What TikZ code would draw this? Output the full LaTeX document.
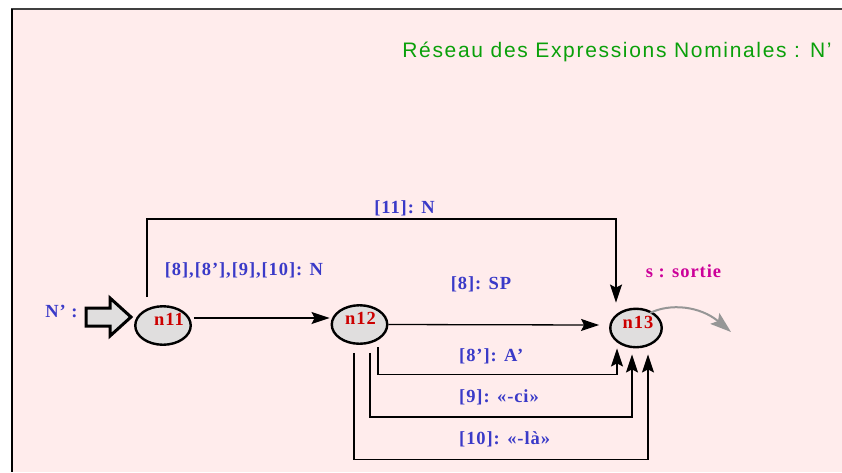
\documentclass[tikz,border=0pt]{standalone}
\usepackage{fontspec}
\setmainfont{Liberation Serif}
\newfontfamily\titlefont{Liberation Sans}[LetterSpace=8]
\newfontfamily\labfont{Liberation Serif}[LetterSpace=5]
\usetikzlibrary{arrows.meta,calc,shapes.geometric}
\definecolor{bgpink}{RGB}{255,236,236}
\definecolor{labblue}{RGB}{58,58,200}
\definecolor{nodered}{RGB}{204,0,0}
\definecolor{magent}{RGB}{204,0,153}
\definecolor{titlegreen}{RGB}{10,160,10}
\definecolor{ellfill}{RGB}{224,222,222}
\definecolor{arrgray}{RGB}{150,150,150}
\begin{document}
\begin{tikzpicture}[x=1pt,y=-1pt,
  statenode/.style={ellipse,draw=black,line width=2.4pt,fill=ellfill,inner sep=0pt,
    minimum width=55.5pt,minimum height=38.5pt},
  nlab/.style={font=\labfont\bfseries\fontsize{18.5}{20}\selectfont,text=nodered,inner sep=0pt,anchor=base},
  blab/.style={font=\labfont\bfseries\fontsize{18.5}{20}\selectfont,text=labblue,inner sep=0pt,anchor=base},
  arr/.style={line width=1.3pt,-{Stealth[length=18pt,width=12pt,inset=3pt]}},
  garr/.style={line width=2pt,draw=arrgray,-{Stealth[length=21pt,width=14pt,inset=4pt]}}
]
\useasboundingbox (0,0) rectangle (842,472);
\fill[white] (0,0) rectangle (842,472);
\fill[bgpink] (12,9) rectangle (842,472);
\draw[line width=2pt,draw=black!75] (11,9) -- (842,9);
\draw[line width=2pt,draw=black] (12,9) -- (12,472);

% title
\node[font=\titlefont\fontsize{21}{23}\selectfont,text=titlegreen,inner sep=0pt,anchor=base] (title) at (617,57) {Réseau des Expressions Nominales : N’};

% entry arrow
\draw[line width=3pt,fill=ellfill,line join=miter] (86,308) -- (110,308) -- (110,298) -- (131,317) -- (110,336) -- (110,326) -- (86,326) -- cycle;
\node[blab] (entry) at (61.5,317.7) {N’ :};

% states
\node[statenode] (n11) at (163,325.5) {};
\node[statenode] (n12) at (359.5,324.5) {};
\node[statenode,minimum width=51.5pt] (n13) at (636,328) {};
\node[nlab] (n11t) at (169,325.7) {n11};
\node[nlab] (n12t) at (360.5,324.7) {n12};
\node[nlab] (n13t) at (638,328) {n13};

% connectors
\draw[arr] ($(n11.east)+(2,-7.5)$) -- ($(n12.west)+(-1,-6.5)$);
\draw[arr] (n12.east) -- ($(n13.west)+(-10,-3)$);
\draw[arr] ($(n11.north)+(-16,-8)$) |- ($(n13.north)+(-20,-88.5)$) -- ($(n13.north)+(-20,-5)$);
\draw[arr] ($(n12.south)+(18.5,2.5)$) |- ($(n13.south)+(-19,26)$) -- ($(n13.south)+(-19,0)$);
\draw[arr] ($(n12.south)+(10.5,8)$) |- ($(n13.south)+(-4,68.5)$) -- ($(n13.south)+(-4,6)$);
\draw[arr] ($(n12.south)+(-5.5,8)$) |- ($(n13.south)+(12,111)$) -- ($(n13.south)+(12,6)$);
\coordinate (exitend) at (731,332);
\draw[garr] ($(n13.center)+(14,-15)$) .. controls (670,303) and (700,306) .. (exitend);

% labels
\node[blab] (l11) at (404.5,213) {[11]: N};
\node[blab] (l8all) at (244,275.7) {[8],[8’],[9],[10]: N};
\node[blab] (l8) at (481,289) {[8]: SP};
\node[blab,anchor=base west] (l8p) at (459,361) {[8’]: A’};
\node[blab,anchor=base west] (l9) at (459,402.7) {[9]: «-ci»};
\node[blab,anchor=base west] (l10) at (459,444) {[10]: «-là»};
\node[blab,text=magent] (sortie) at (683.5,277.7) {s : sortie};
\end{tikzpicture}
\end{document}
